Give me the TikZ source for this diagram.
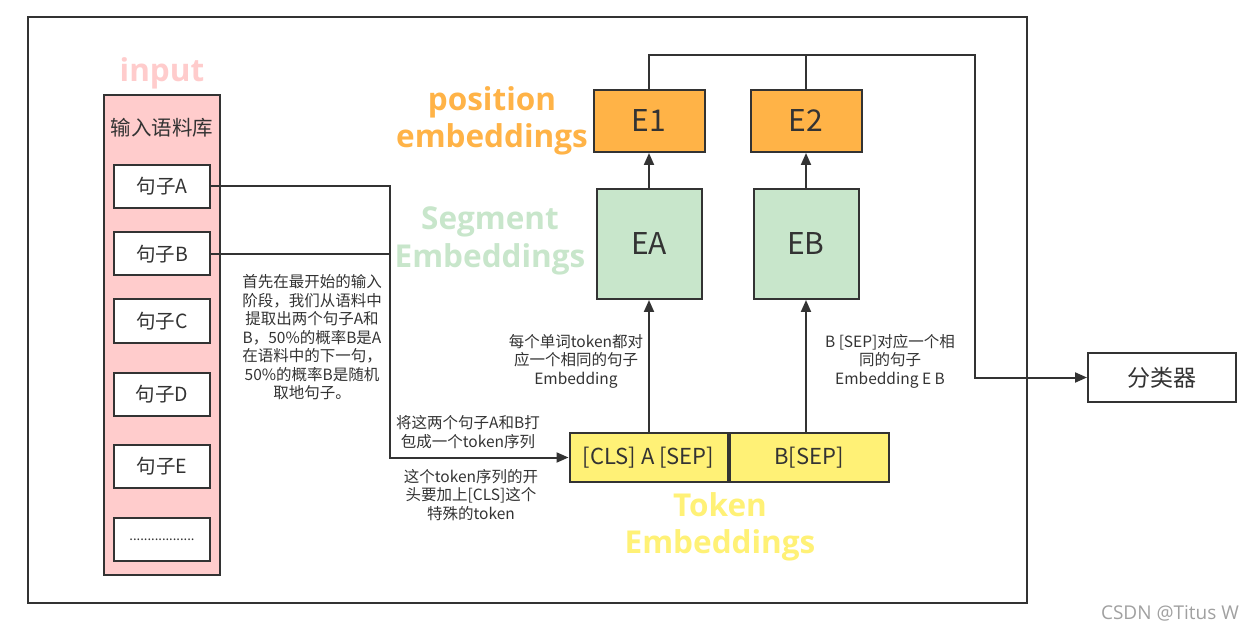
\documentclass[tikz,border=0pt]{standalone}
\usepackage{fontspec}
\setmainfont{Noto Sans CJK SC}
\newfontfamily\labfont{Open Sans}
\usetikzlibrary{arrows.meta}

\definecolor{linegray}{HTML}{333333}
\definecolor{pinkfill}{HTML}{FFCCCC}
\definecolor{orangefill}{HTML}{FFB347}
\definecolor{greenfill}{HTML}{C8E6CB}
\definecolor{yellowfill}{HTML}{FFF176}
\definecolor{marktext}{HTML}{A0A0A0}

\tikzset{
    sentbox/.style={draw=linegray, line width=2pt, fill=white, minimum width=96pt,
        minimum height=43pt, inner sep=0pt, text=linegray, font=\fontsize{19.5}{22}\selectfont},
    embbox/.style={draw=linegray, line width=2pt, inner sep=0pt, text=linegray},
    biglab/.style={align=center, font=\labfont\bfseries\fontsize{31.5}{37.5}\selectfont},
    note/.style={align=center, text=linegray, font=\fontsize{15.5}{18.5}\selectfont},
}

\begin{document}
\begin{tikzpicture}[x=1pt, y=-1pt, >={Triangle[length=12pt,width=10pt]}, line join=miter]
    \useasboundingbox (0,0) rectangle (1254,631);

    % Frame
    \draw[linegray, line width=2pt] (28,17) rectangle (1027,603);

    % Input corpus
    \node[draw=linegray, line width=2pt, fill=pinkfill, minimum width=116pt,
        minimum height=480pt, inner sep=0pt] (corpus) at (162,335) {};
    \node[text=pinkfill, biglab] (inputlab) at (162,73) {input};
    \node[text=linegray, font=\fontsize{20.5}{24}\selectfont] (corpuslab) at (162,128) {输入语料库};
    \node[sentbox] (sA) at (162,186.5) {句子A};
    \node[sentbox] (sB) at (162,254) {句子B};
    \node[sentbox] (sC) at (162,321) {句子C};
    \node[sentbox] (sD) at (162,394.5) {句子D};
    \node[sentbox] (sE) at (162,466) {句子E};
    \node[sentbox, font=\fontsize{13}{15}\selectfont] (sDots) at (162,539.5) {..................};

    % Token embeddings
    \node[embbox, fill=yellowfill, minimum width=158pt, minimum height=49pt,
        font=\fontsize{22}{25}\selectfont] (tokA) at (648.5,457.5) {[CLS] A [SEP]};
    \node[embbox, fill=yellowfill, minimum width=159pt, minimum height=49pt,
        font=\fontsize{22}{25}\selectfont, anchor=west] (tokB) at (tokA.east) {B[SEP]};
    \node[text=yellowfill, biglab] (toklab) at (720,527) {Token\\Embeddings};

    % Segment embeddings
    \node[embbox, fill=greenfill, minimum width=105pt, minimum height=110pt,
        font=\fontsize{30}{33}\selectfont] (EA) at (649,244) {EA};
    \node[embbox, fill=greenfill, minimum width=105pt, minimum height=110pt,
        font=\fontsize{30}{33}\selectfont] (EB) at (806,244) {EB};
    \node[text=greenfill, biglab] (seglab) at (490,241) {Segment\\Embeddings};

    % Position embeddings
    \node[embbox, fill=orangefill, minimum width=111pt, minimum height=62pt,
        font=\fontsize{30}{33}\selectfont] (E1) at (649,121) {E1};
    \node[embbox, fill=orangefill, minimum width=111pt, minimum height=62pt,
        font=\fontsize{30}{33}\selectfont] (E2) at (806,121) {E2};
    \node[text=orangefill, biglab] (poslab) at (492,121) {position\\embeddings};

    % Classifier
    \node[embbox, fill=white, minimum width=148pt, minimum height=49pt,
        font=\fontsize{23}{26}\selectfont] (clf) at (1162,377.5) {分类器};

    % Connectors
    \coordinate (join) at (390,457.5);
    \coordinate (top) at (975,55);
    \draw[->, linegray, line width=2pt] (sA.east) -| (join) -- (tokA.west);
    \draw[linegray, line width=2pt] (sB.east) -- (sB.east -| join);
    \draw[->, linegray, line width=2pt] (tokA.north -| EA.south) -- (EA.south);
    \draw[->, linegray, line width=2pt] (tokB.north -| EB.south) -- (EB.south);
    \draw[->, linegray, line width=2pt] (EA) -- (E1);
    \draw[->, linegray, line width=2pt] (EB) -- (E2);
    \draw[->, linegray, line width=2pt] (E1.north) |- (top) |- (clf.west);
    \draw[linegray, line width=2pt] (E2.north) -- (E2.north |- top);

    % Annotations
    \node[note] (introNote) at (312,337.5) {首先在最开始的输入\\阶段，我们从语料中\\提取出两个句子A和\\B，50\%的概率B是A\\在语料中的下一句，\\50\%的概率B是随机\\取地句子。};
    \node[note] (packNote) at (468,432) {将这两个句子A和B打\\包成一个token序列};
    \node[note] (clsNote) at (471,495) {这个token序列的开\\头要加上[CLS]这个\\特殊的token};
    \node[note] (segANote) at (576,361) {每个单词token都对\\应一个相同的句子\\Embedding};
    \node[note] (segBNote) at (890,361) {B [SEP]对应一个相\\同的句子\\Embedding E B};
    \node[text=marktext, font=\labfont\fontsize{19}{22}\selectfont] (mark) at (1170,613) {CSDN @Titus W};
\end{tikzpicture}
\end{document}
